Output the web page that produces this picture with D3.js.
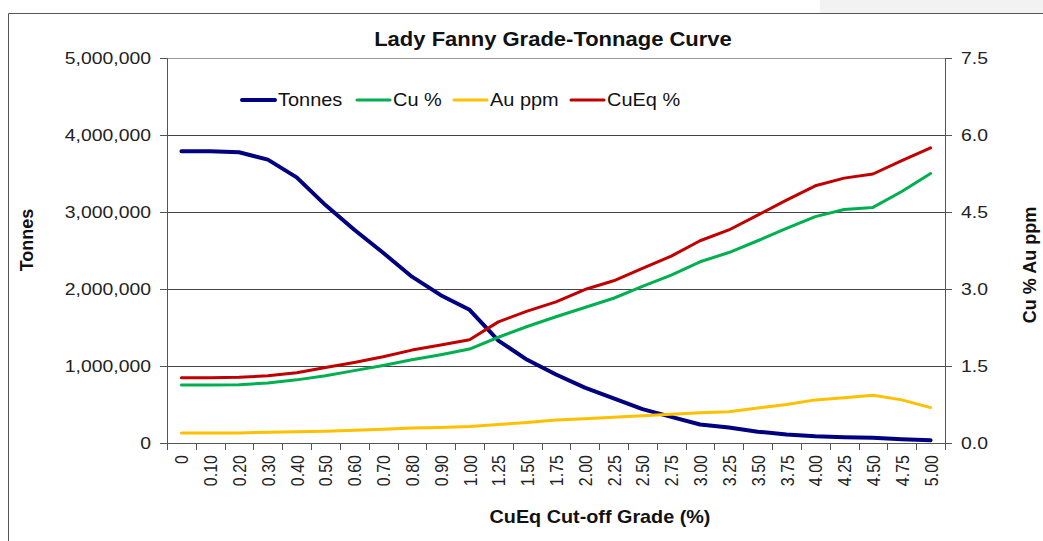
<!DOCTYPE html>
<html>
<head>
<meta charset="utf-8">
<script src="https://cdn.jsdelivr.net/npm/d3@7"></script>
<style>
  body { margin: 0; background: #fff; }
  text { font-family: "Liberation Sans", Arial, sans-serif; }
</style>
</head>
<body>
<div id="chart"></div>
<script>
var categories = ['0', '0.10', '0.20', '0.30', '0.40', '0.50', '0.60', '0.70', '0.80', '0.90', '1.00',
  '1.25', '1.50', '1.75', '2.00', '2.25', '2.50', '2.75', '3.00', '3.25', '3.50', '3.75', '4.00',
  '4.25', '4.50', '4.75', '5.00']

var tonnes = [3790000, 3790000, 3776000, 3680000, 3450000, 3090000, 2770000, 2470000, 2160000, 1920000,
  1730000, 1330000, 1080000, 890000, 720000, 580000, 440000, 340000, 240000, 200000, 147000, 110000,
  87000, 74000, 69000, 48000, 35000]
var cu = [1.13, 1.13, 1.135, 1.17, 1.23, 1.31, 1.41, 1.51, 1.62, 1.72, 1.83, 2.06, 2.27, 2.46, 2.64,
  2.82, 3.05, 3.27, 3.53, 3.71, 3.94, 4.18, 4.41, 4.55, 4.59, 4.90, 5.25]
var au = [0.195, 0.195, 0.195, 0.21, 0.22, 0.23, 0.25, 0.27, 0.29, 0.30, 0.32, 0.36, 0.40, 0.45, 0.47,
  0.50, 0.53, 0.56, 0.59, 0.61, 0.68, 0.75, 0.84, 0.88, 0.93, 0.84, 0.69]
var cueq = [1.27, 1.27, 1.28, 1.31, 1.37, 1.47, 1.57, 1.68, 1.81, 1.91, 2.01, 2.36, 2.57, 2.75, 2.99,
  3.16, 3.40, 3.64, 3.94, 4.15, 4.44, 4.73, 5.01, 5.16, 5.24, 5.50, 5.75]

var leftTicks = [0, 1000000, 2000000, 3000000, 4000000, 5000000]
var rightTicks = [0, 1.5, 3.0, 4.5, 6.0, 7.5]

var series = [
  {name: 'Tonnes', values: tonnes, color: '#000080', axis: 'left', width: 4},
  {name: 'Cu %', values: cu, color: '#00b050', axis: 'right', width: 3},
  {name: 'Au ppm', values: au, color: '#ffc000', axis: 'right', width: 3},
  {name: 'CuEq %', values: cueq, color: '#c00000', axis: 'right', width: 3}
]

var W = 1043, H = 541
var margin = {top: 58, right: 98, bottom: 98, left: 167}
var width = W - margin.left - margin.right
var height = H - margin.top - margin.bottom
var sx = 1.14 // the original text looks a bit stretched sideways

var svg = d3.select('#chart').append('svg')
  .attr('width', W)
  .attr('height', H)

// grey strip at top right + outer border
svg.append('rect').attr('x', 820).attr('y', 0).attr('width', W - 820).attr('height', 13).attr('fill', '#f2f2f2')
svg.append('path')
  .attr('d', 'M8.5,' + H + 'V13.5H' + W)
  .attr('fill', 'none').attr('stroke', '#555').attr('stroke-width', 1)

var g = svg.append('g')
  .attr('transform', 'translate(' + margin.left + ',' + margin.top + ')')

var x = d3.scaleBand().domain(categories).range([0, width])
var yL = d3.scaleLinear().domain([0, 5000000]).range([height, 0])
var yR = d3.scaleLinear().domain([0, 7.5]).range([height, 0])

// gridlines
g.selectAll('.grid').data(leftTicks.slice(1)).enter().append('line')
  .attr('x1', 0).attr('x2', width)
  .attr('y1', function (d) { return Math.round(yL(d)) + 0.5 })
  .attr('y2', function (d) { return Math.round(yL(d)) + 0.5 })
  .attr('stroke', function (d) { return d === 5000000 ? '#999' : '#444' })
  .attr('stroke-width', 1)

var axL = g.append('g')
  .call(d3.axisLeft(yL).tickValues(leftTicks).tickFormat(d3.format(',')).tickSize(7))
axL.select('.domain').attr('stroke', '#555')
axL.selectAll('.tick line').attr('stroke', '#555')
axL.selectAll('text').attr('font-size', 17).attr('fill', '#222')
  .attr('x', -16 / sx).attr('transform', 'scale(' + sx + ',1)')
  .style('font-family', '"Liberation Sans", Arial, sans-serif')

var axR = g.append('g')
  .attr('transform', 'translate(' + width + ',0)')
  .call(d3.axisRight(yR).tickValues(rightTicks).tickFormat(d3.format('.1f')).tickSize(7))
axR.select('.domain').attr('stroke', '#555')
axR.selectAll('.tick line').attr('stroke', '#555')
axR.selectAll('text').attr('font-size', 17).attr('fill', '#222')
  .attr('x', 16 / sx).attr('transform', 'scale(' + sx + ',1)')
  .style('font-family', '"Liberation Sans", Arial, sans-serif')

// category axis: ticks sit between categories
var axB = g.append('g').attr('transform', 'translate(0,' + height + ')')
axB.append('line').attr('x1', 0).attr('x2', width).attr('y1', 0.5).attr('y2', 0.5).attr('stroke', '#555')
var bounds = d3.range(categories.length + 1).map(function (i) { return i * x.step() })
axB.selectAll('.ctick').data(bounds).enter().append('line')
  .attr('x1', function (d) { return Math.round(d) + 0.5 })
  .attr('x2', function (d) { return Math.round(d) + 0.5 })
  .attr('y1', 0).attr('y2', 7)
  .attr('stroke', '#555')
axB.selectAll('.clabel').data(categories).enter().append('text')
  .attr('transform', function (d) {
    return 'translate(' + (x(d) + x.bandwidth() / 2 + 7) + ',12) rotate(-90) scale(1,' + sx + ')'
  })
  .attr('text-anchor', 'end')
  .attr('font-size', 16)
  .attr('fill', '#222')
  .text(function (d) { return d })

// series lines
series.forEach(function (s) {
  var yy = s.axis === 'left' ? yL : yR
  var line = d3.line()
    .x(function (d, i) { return x(categories[i]) + x.bandwidth() / 2 })
    .y(function (d) { return yy(d) })
  g.append('path')
    .datum(s.values)
    .attr('d', line)
    .attr('fill', 'none')
    .attr('stroke', s.color)
    .attr('stroke-width', s.width)
    .attr('stroke-linejoin', 'round')
    .attr('stroke-linecap', 'round')
})

// legend
var legendX = [242, 357, 454, 571]
series.forEach(function (s, i) {
  var lg = svg.append('g').attr('transform', 'translate(' + legendX[i] + ',100)')
  lg.append('line').attr('x1', 0).attr('x2', 33).attr('y1', 0).attr('y2', 0)
    .attr('stroke', s.color).attr('stroke-width', s.width).attr('stroke-linecap', 'round')
  lg.append('text').attr('transform', 'translate(36,6) scale(' + sx + ',1)')
    .attr('font-size', 17.5).attr('fill', '#111').text(s.name)
})

// titles
svg.append('text').attr('transform', 'translate(553,46) scale(1.1,1)').attr('text-anchor', 'middle')
  .attr('font-size', 20).attr('font-weight', 'bold').attr('fill', '#111')
  .text('Lady Fanny Grade-Tonnage Curve')
svg.append('text').attr('transform', 'translate(600,523) scale(1.1,1)').attr('text-anchor', 'middle')
  .attr('font-size', 18).attr('font-weight', 'bold').attr('fill', '#111')
  .text('CuEq Cut-off Grade (%)')
svg.append('text').attr('transform', 'translate(33,240) rotate(-90)').attr('text-anchor', 'middle')
  .attr('font-size', 18).attr('font-weight', 'bold').attr('fill', '#111')
  .text('Tonnes')
svg.append('text').attr('transform', 'translate(1036,265) rotate(-90)').attr('text-anchor', 'middle')
  .attr('font-size', 18).attr('font-weight', 'bold').attr('fill', '#111')
  .text('Cu % Au ppm')
</script>
</body>
</html>
